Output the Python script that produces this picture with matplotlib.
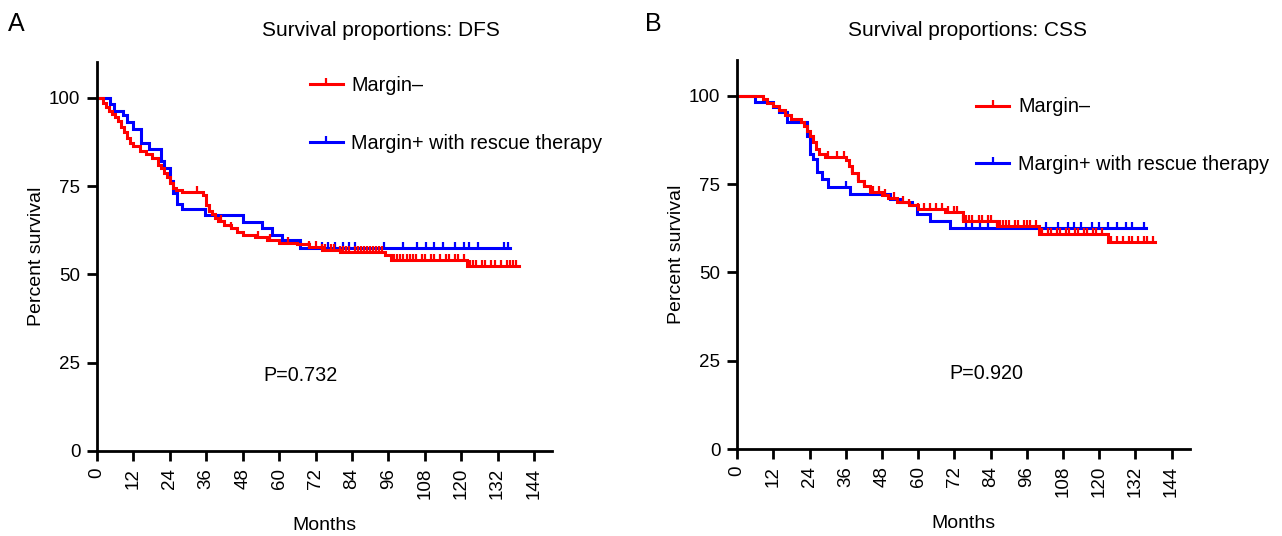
import numpy as np
import matplotlib.pyplot as plt
from matplotlib.lines import Line2D

plt.rcParams["font.family"] = ["Liberation Sans", "DejaVu Sans"]

# ---- DFS panel (A) ----
dfs_neg_t = [0, 2, 3, 4, 5, 6, 7, 8, 9, 10, 11, 12, 14, 16, 18, 20, 21, 22, 23, 24,
             25, 26, 28, 35, 36, 37, 38, 39, 40, 42, 44, 46, 48, 52, 56, 60, 66, 70,
             74, 80, 95, 97, 122, 139]
dfs_neg_s = [100, 98.5, 97.3, 96.3, 95.5, 94.5, 93.3, 91.8, 90.2, 88.5, 87.3, 86.3,
             85, 84, 82.8, 81, 80, 78.7, 77.5, 75.8, 74.5, 73.8, 73.2, 72.5, 69.5, 68,
             67, 66, 65, 64, 63, 62, 61, 60.5, 59.8, 59, 58.5, 57.7, 56.8, 56.2, 55.5,
             54.2, 52.5, 52.5]
dfs_neg_cens = [33, 37, 41, 44, 53, 57, 63, 70, 72, 74, 75, 77, 78, 80, 81, 82, 83, 85,
                86, 87, 88, 89, 90, 91, 92, 93, 94, 98, 99, 100, 101, 102, 103, 104,
                105, 107, 108, 110, 111, 113, 115, 116, 118, 119, 121, 123, 124, 125,
                127, 128, 130, 131, 133, 135, 136, 137, 138]

dfs_pos_t = [0, 4.3, 5.5, 8.5, 10, 12, 14.5, 17, 21, 22, 24, 25, 26.5, 28, 35.6, 48,
             54.5, 57.8, 61, 67, 136]
dfs_pos_s = [100, 98.3, 96.3, 95, 93, 91.2, 87.3, 85.6, 82.2, 80, 76.5, 73, 70, 68.6,
             66.7, 64.7, 63, 61, 59.6, 57.6, 57.6]
dfs_pos_cens = [70, 74, 76, 78.5, 81, 83, 85, 94.5, 101, 105.5, 108.5, 111, 114, 118,
                121, 122.5, 125.5, 134, 135.5]

# ---- CSS panel (B) ----
css_neg_t = [0, 8.6, 10, 12, 14, 16, 18, 21, 22, 23, 24, 25, 26, 27, 29, 36, 37, 38,
             40, 42, 44, 48, 50, 53, 57, 60, 69, 75, 86, 100, 123, 138.5]
css_neg_s = [100, 99, 98, 97.2, 96, 94.5, 93.5, 92.6, 91.5, 90, 88.5, 87, 85, 83.5,
             82.7, 81.8, 80, 78, 76, 74.5, 72.7, 71.9, 71, 69.9, 69, 67.9, 67, 64.5,
             63, 60.8, 58.5, 58.5]
css_neg_cens = [30, 33, 35.5, 38, 40, 42, 45, 47, 49, 52, 55, 57, 60, 62, 64, 66, 68,
                70, 72, 73, 75, 76, 77, 78, 80, 81, 83, 84, 86, 87, 88, 89, 90, 92, 93,
                95, 96, 97, 99, 101, 103, 104, 106, 107, 109, 110, 112, 113, 115, 116,
                118, 119, 121, 124, 126, 128, 130, 131, 133, 135, 136, 138]

css_pos_t = [0, 6, 12, 14, 16.5, 23, 24, 25, 26.5, 28, 30, 37.5, 50.7, 54, 58, 59.6,
             64, 70.5, 135.5]
css_pos_s = [100, 98.3, 96.9, 95.5, 92.6, 88.6, 83.5, 82, 78.4, 76.4, 74.1, 72.2,
             70.7, 69.9, 69, 66.5, 64.5, 62.5, 62.5]
css_pos_cens = [36, 76, 78, 80.5, 83, 102.5, 106.5, 109.5, 111.5, 114, 117.5, 120,
                123, 126, 129, 131, 135]

labels = ["Margin\u2013", "Margin+ with rescue therapy"]
colors = ["#ff0000", "#0000ff"]
xticks = list(range(0, 145, 12))
yticks = [0, 25, 50, 75, 100]


def surv_at(t, times, surv):
    idx = np.searchsorted(times, t, side="right") - 1
    return np.array(surv)[idx]


def draw_panel(ax, curves, pval, ptext_x, leg_anchor):
    # blue drawn first so the red curve sits on top
    for (t, s, cens), c in reversed(list(zip(curves, colors))):
        ax.step(t, s, where="post", color=c, lw=2.2, solid_joinstyle="miter")
        ax.plot(cens, surv_at(cens, t, s), ls="none", marker=2, ms=4.5, mew=1.6, color=c)
    ax.set_xlim(0, 150)
    ax.set_ylim(0, 110)
    ax.set_xticks(xticks)
    ax.set_yticks(yticks)
    ax.set_xticklabels([str(v) for v in xticks], rotation=90)
    for sp in ["top", "right"]:
        ax.spines[sp].set_visible(False)
    for sp in ["left", "bottom"]:
        ax.spines[sp].set_linewidth(2)
    ax.tick_params(width=2, length=7, labelsize=13.5, direction="out", pad=5)
    ax.set_xlabel("Months", fontsize=14, labelpad=13)
    ax.set_ylabel("Percent survival", fontsize=14, labelpad=3)
    ax.text(ptext_x, 21.5, pval, fontsize=14.2, va="center")
    handles = [Line2D([], [], color=c, lw=2.2, marker=2, ms=4.5, mew=1.6) for c in colors]
    ax.legend(handles, labels, loc="upper left", bbox_to_anchor=leg_anchor,
              frameon=False, fontsize=14.3, handlelength=1.65, handletextpad=0.45,
              labelspacing=1.95, borderaxespad=0, numpoints=1)


fig = plt.figure(figsize=(12.82, 5.36), dpi=100)
ax1 = fig.add_axes([0.0757, 0.1586, 0.355, 0.725])
ax2 = fig.add_axes([0.575, 0.1623, 0.353, 0.725])

draw_panel(ax1, [(dfs_neg_t, dfs_neg_s, dfs_neg_cens),
                 (dfs_pos_t, dfs_pos_s, dfs_pos_cens)], "P=0.732", 54.8, (0.45, 0.985))
draw_panel(ax2, [(css_neg_t, css_neg_s, css_neg_cens),
                 (css_pos_t, css_pos_s, css_pos_cens)], "P=0.920", 70.5, (0.511, 0.925))

fig.text(0.297, 0.944, "Survival proportions: DFS", fontsize=15, ha="center", va="center")
fig.text(0.755, 0.944, "Survival proportions: CSS", fontsize=15, ha="center", va="center")
fig.text(0.006, 0.955, "A", fontsize=18, va="center")
fig.text(0.503, 0.955, "B", fontsize=18, va="center")

fig.savefig("out.png", dpi=100)
